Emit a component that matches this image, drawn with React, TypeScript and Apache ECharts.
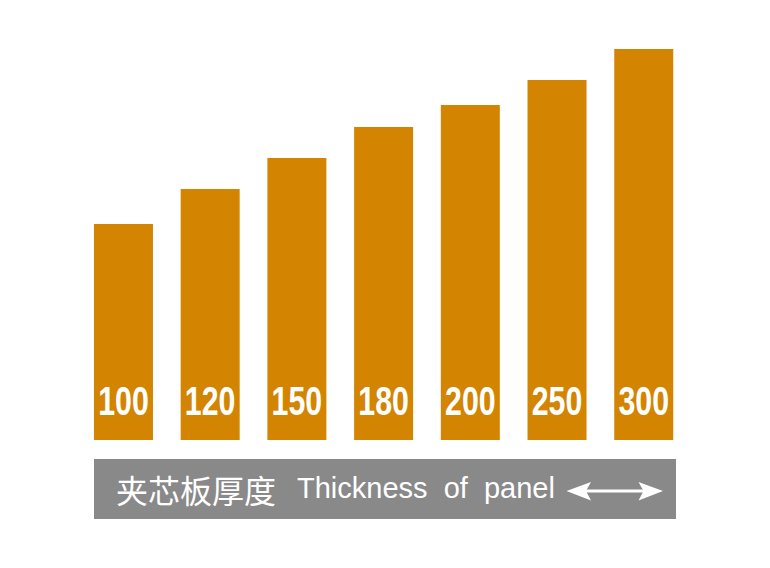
import React, { useEffect, useRef } from "react";
import * as echarts from "echarts";

const categories = ["100", "120", "150", "180", "200", "250", "300"];
const barHeights = [216, 251, 282, 313, 335, 360, 391];
const bandTitleZh = "夹芯板厚度";
const bandTitleEn = "Thickness\u00A0\u00A0of\u00A0\u00A0panel";

const BAR_COLOR = "#D38400";
const BAND_COLOR = "#898989";

export default function App() {
  const ref = useRef<HTMLDivElement>(null);

  useEffect(() => {
    if (!ref.current) return;
    const chart = echarts.init(ref.current, undefined, { renderer: "svg" });
    const option: any = {
      animation: false,
      backgroundColor: "#ffffff",
      grid: { left: 80.1, right: 82.9, top: 40, bottom: 128, containLabel: false },
      xAxis: {
        type: "category",
        data: categories,
        axisLine: { show: false },
        axisTick: { show: false },
        axisLabel: { show: false },
        splitLine: { show: false },
      },
      yAxis: {
        type: "value",
        min: 0,
        max: 400,
        show: false,
        splitLine: { show: false },
      },
      series: [
        {
          type: "bar",
          data: barHeights,
          barWidth: 59,
          itemStyle: { color: BAR_COLOR },
          silent: true,
        },
        {
          type: "custom",
          data: categories.map((c, i) => [i, barHeights[i]]),
          z: 10,
          silent: true,
          renderItem: (params: any, api: any) => {
            const p = api.coord([api.value(0), 0]);
            return {
              type: "text",
              x: p[0],
              y: p[1] - 39,
              scaleX: 0.74,
              style: {
                text: categories[params.dataIndex],
                fill: "#ffffff",
                font: "bold 41px 'Liberation Sans', Arial, sans-serif",
                align: "center",
                verticalAlign: "middle",
              },
            };
          },
        },
      ],
      graphic: [
        {
          type: "rect",
          shape: { x: 94, y: 459, width: 582, height: 60 },
          style: { fill: BAND_COLOR },
          silent: true,
        },
        {
          type: "text",
          x: 116,
          y: 489,
          style: {
            text: bandTitleZh,
            fill: "#ffffff",
            font: "32px 'Noto Sans CJK SC', sans-serif",
            align: "left",
            verticalAlign: "middle",
          },
        },
        {
          type: "text",
          x: 297,
          y: 488,
          style: {
            text: bandTitleEn,
            fill: "#ffffff",
            font: "29px 'Liberation Sans', Arial, sans-serif",
            align: "left",
            verticalAlign: "middle",
          },
        },
        {
          type: "line",
          shape: { x1: 584, y1: 491, x2: 646, y2: 491 },
          style: { stroke: "#ffffff", lineWidth: 3 },
        },
        {
          type: "polygon",
          shape: { points: [[566.5, 491], [591, 482], [586, 491], [591, 500.5]] },
          style: { fill: "#ffffff" },
        },
        {
          type: "polygon",
          shape: { points: [[663, 491], [638.5, 482], [643.5, 491], [638.5, 500.5]] },
          style: { fill: "#ffffff" },
        },
      ],
    };
    chart.setOption(option);
    return () => chart.dispose();
  }, []);

  return (
    <div
      ref={ref}
      style={{ position: "fixed", left: 0, top: 0, width: 770, height: 568, background: "#fff" }}
    />
  );
}
